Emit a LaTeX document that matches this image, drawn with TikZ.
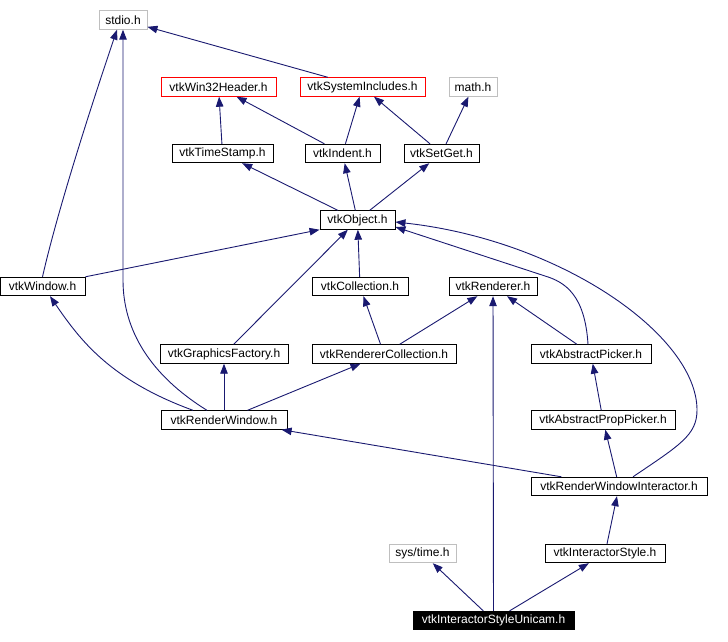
\documentclass[tikz,border=0pt]{standalone}
\usepackage{fontspec}
\setmainfont{Liberation Sans}
\usepackage{tikz}
\usetikzlibrary{shapes,arrows.meta,positioning}
\usepackage{xcolor}
\definecolor{edgeblue}{RGB}{25,25,112}
\definecolor{extgray}{RGB}{191,191,191}

\begin{document}
\begin{tikzpicture}[
    x=1pt, y=-1pt,
    header/.style={rectangle, minimum height=18.5pt, inner sep=0pt, text centered, draw=black, fill=white, line width=0.9pt, font=\fontsize{12}{13}\selectfont},
    extern/.style={header, draw=extgray},
    undoc/.style={header, draw=red},
    focus/.style={header, fill=black, text=white},
    arrow/.style={draw=edgeblue, line width=0.9pt, -{Triangle[length=10pt,width=7.5pt]}}
]
\useasboundingbox (0,0) rectangle (728,642);

% 第一层：系统头文件
\node (stdio) [extern, minimum width=48pt] at (123,20) {stdio.h};

% 第二层
\node (win32) [undoc, minimum width=115pt] at (218.5,87) {vtkWin32Header.h};
\node (sysinc) [undoc, minimum width=125pt] at (362.5,87) {vtkSystemIncludes.h};
\node (math) [extern, minimum width=48pt] at (473,87) {math.h};

% 第三层
\node (timestamp) [header, minimum width=101pt] at (222.5,153.5) {vtkTimeStamp.h};
\node (indent) [header, minimum width=75pt] at (342.5,153.5) {vtkIndent.h};
\node (setget) [header, minimum width=75pt] at (441.5,153.5) {vtkSetGet.h};

% 第四层：vtkObject
\node (object) [header, minimum width=75pt] at (357.5,220) {vtkObject.h};

% 第五层
\node (window) [header, minimum width=85pt] at (42.5,286.5) {vtkWindow.h};
\node (collection) [header, minimum width=96pt] at (360,286.5) {vtkCollection.h};
\node (renderer) [header, minimum width=88pt] at (493,286.5) {vtkRenderer.h};

% 第六层
\node (gfactory) [header, minimum width=128pt] at (224,354) {vtkGraphicsFactory.h};
\node (rencoll) [header, minimum width=144pt] at (384,354) {vtkRendererCollection.h};
\node (picker) [header, minimum width=120pt] at (591,354) {vtkAbstractPicker.h};

% 第七层
\node (renwin) [header, minimum width=126pt] at (224,420) {vtkRenderWindow.h};
\node (proppicker) [header, minimum width=144pt] at (603,420) {vtkAbstractPropPicker.h};

% 第八层
\node (rwi) [header, minimum width=176pt] at (619,486.5) {vtkRenderWindowInteractor.h};

% 第九层
\node (systime) [extern, minimum width=67pt] at (422.5,553.5) {sys/time.h};
\node (istyle) [header, minimum width=120pt] at (605,553.5) {vtkInteractorStyle.h};

% 最底层：本文件
\node (unicam) [focus, minimum width=161pt] at (493.5,620.5) {vtkInteractorStyleUnicam.h};

% 绘制箭头
\draw [arrow] (sysinc) -- (stdio);
\draw [arrow] (window.north) .. controls (60,200) and (100,80) .. ([xshift=-6pt]stdio.south);
\draw [arrow] ([xshift=-17pt]renwin.north) .. controls (150,375) and (123,330) .. (123,280) -- (stdio.south);
\draw [arrow] (timestamp) -- (win32);
\draw [arrow] (indent) -- (win32);
\draw [arrow] (indent) -- (sysinc);
\draw [arrow] (setget) -- (sysinc);
\draw [arrow] (setget) -- (math);
\draw [arrow] (object) -- (timestamp);
\draw [arrow] (object) -- (indent);
\draw [arrow] (object) -- (setget);
\draw [arrow] (window.north east) -- (object.south west);
\draw [arrow] (collection) -- (object);
\draw [arrow] (gfactory) -- (object);
\draw [arrow] ([xshift=-3pt]picker.north) .. controls (585,295) and (565,282) .. (545,276) -- ([yshift=-7pt]object.east);
\draw [arrow] ([xshift=14pt]rwi.north) .. controls (680,445) and (697,435) .. (697,410) .. controls (697,335) and (560,240) .. ([yshift=-2pt]object.east);
\draw [arrow] (rencoll) -- (collection);
\draw [arrow] (rencoll) -- (renderer);
\draw [arrow] (picker) -- (renderer);
\draw [arrow] (unicam) -- (renderer);
\draw [arrow] ([xshift=-31pt]renwin.north) .. controls (110,380) and (80,340) .. ([xshift=7.5pt]window.south);
\draw [arrow] (renwin) -- (gfactory);
\draw [arrow] (renwin) -- (rencoll);
\draw [arrow] (rwi) -- (renwin);
\draw [arrow] (proppicker) -- (picker);
\draw [arrow] (rwi) -- (proppicker);
\draw [arrow] (istyle) -- (rwi);
\draw [arrow] (unicam) -- (systime);
\draw [arrow] (unicam) -- (istyle);

\end{tikzpicture}
\end{document}
